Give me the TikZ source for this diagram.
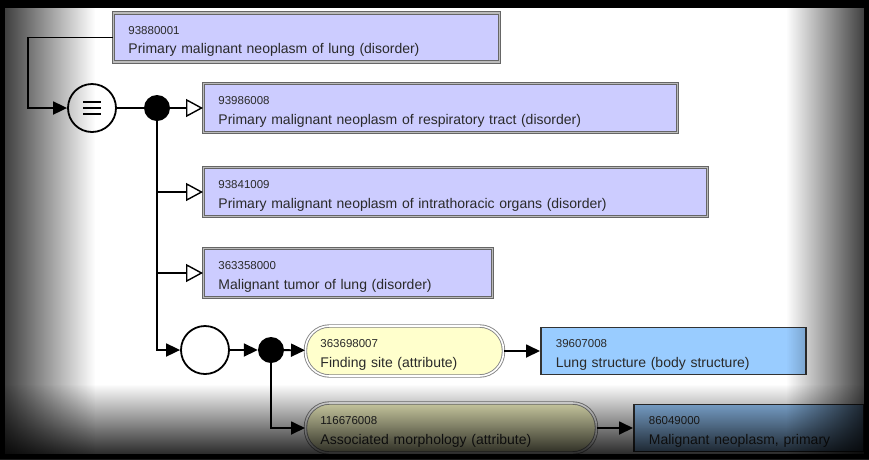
\documentclass[tikz,border=0pt]{standalone}
\usepackage{fontspec}
\setmainfont{Liberation Sans}
\usetikzlibrary{arrows.meta,fadings,calc}
\definecolor{boxpurple}{HTML}{CCCCFF}
\definecolor{boxyellow}{HTML}{FFFFCC}
\definecolor{boxblue}{HTML}{99CCFF}
\definecolor{textgray}{HTML}{2A2A2A}
\definecolor{borderdark}{HTML}{666666}
\definecolor{borderlight}{HTML}{BBBBBB}
\tikzfading[name=fadeL, left color=transparent!0, right color=transparent!100]
\tikzfading[name=fadeR, left color=transparent!100, right color=transparent!0]
\tikzfading[name=fadeB, top color=transparent!100, bottom color=transparent!0]
\newcommand{\numsz}{\fontsize{11.5}{19.5}\selectfont\rule{0pt}{16pt}}
\begin{document}
\begin{tikzpicture}[x=1pt,y=-1pt,
  boxbase/.style={rectangle, anchor=west, inner xsep=15pt, inner ysep=0pt,
    align=left, text=textgray, font=\fontsize{14}{19.5}\selectfont},
  pbox/.style={boxbase, draw=borderdark, double=borderlight, double distance=1.4pt,
    line width=0.9pt, fill=boxpurple, minimum height=49pt},
  ybox/.style={boxbase, draw=borderdark!80, double=white, double distance=1.6pt,
    line width=0.9pt, fill=boxyellow, rounded corners=24pt, minimum height=50pt},
  bbox/.style={boxbase, draw=black!80, line width=1.8pt, fill=boxblue, minimum height=47pt},
  ring/.style={circle, draw=black, line width=1.8pt, fill=white, minimum size=48pt, inner sep=0pt},
  dot/.style={circle, fill=black, minimum size=26pt, inner sep=0pt},
  conn/.style={draw=black, line width=1.8pt},
  farrow/.style={conn, -{Triangle[length=14pt,width=13pt]}},
  oarrow/.style={conn, -{Triangle[open,length=17pt,width=18pt,line width=1.4pt,fill=white]}},
]
\useasboundingbox (0,0) rectangle (869,459);
\fill[white] (0,0) rectangle (869,459);

% nodes
\node[pbox, text width=356pt] (b1) at (113,37.5) {{\numsz 93880001}\\Primary malignant neoplasm of lung (disorder)};
\node[ring] (eq) at (92,108) {};
\node[dot] (d1) at (157,108) {};
\node[pbox, text width=444pt] (b2) at (203,108) {{\numsz 93986008}\\Primary malignant neoplasm of respiratory tract (disorder)};
\node[pbox, text width=474pt] (b3) at (203,192) {{\numsz 93841009}\\Primary malignant neoplasm of intrathoracic organs (disorder)};
\node[pbox, text width=259pt] (b4) at (203,273) {{\numsz 363358000}\\Malignant tumor of lung (disorder)};
\node[ring] (c2) at (205,350) {};
\node[dot] (d2) at (271,350) {};
\node[ybox, text width=168pt] (y1) at (305,351) {{\numsz 363698007}\\Finding site (attribute)};
\node[ybox, text width=261pt] (y2) at (305,428) {{\numsz 116676008}\\Associated morphology (attribute)};
\node[bbox, text width=235pt] (l1) at (540,351) {{\numsz 39607008}\\Lung structure (body structure)};
\node[bbox, text width=200pt] (l2) at (633,428) {{\numsz 86049000}\\Malignant neoplasm, primary};

% equivalence sign
\foreach \dy in {-6,0,6}
  \draw[line width=2pt] ($(eq.center)+(-9,\dy)$) -- ($(eq.center)+(9,\dy)$);

% connectors
\coordinate (k1) at (28,37.5);
\draw[farrow] (b1.west) -- (k1) |- (eq);
\draw[conn] (eq) -- (d1);
\draw[oarrow] (d1) -- (b2);
\draw[oarrow] (d1) |- (b3);
\draw[oarrow] (d1) |- (b4);
\draw[farrow] (d1) |- (c2);
\draw[farrow] (c2) -- (d2);
\draw[farrow] (d2) -- (y1);
\draw[farrow] (d2) |- (y2);
\draw[farrow] (y1) -- (l1);
\draw[farrow] (y2) -- (l2);

% vignette
\fill[black, path fading=fadeL] (-25,0) rectangle (95,459);
\fill[black] (0,0) rectangle (5,459);
\fill[black, path fading=fadeR] (786,0) rectangle (890,459);
\fill[black] (864,0) rectangle (869,459);
\fill[black, path fading=fadeB] (0,384) rectangle (869,468);
\fill[black] (0,454) rectangle (869,459);
\fill[black] (0,0) rectangle (869,8);
\end{tikzpicture}
\end{document}
